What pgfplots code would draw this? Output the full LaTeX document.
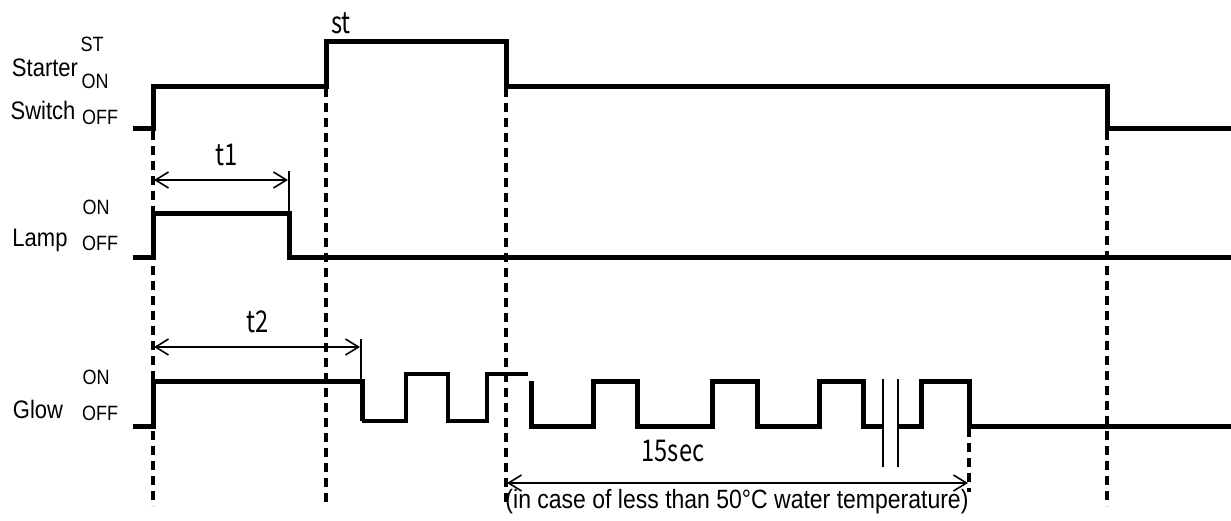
\documentclass[border=0pt]{standalone}
\usepackage{pgfplots}
\pgfplotsset{compat=1.18}
\usepackage{graphicx}
\usepackage{fontspec}
\setmainfont{Liberation Sans}
\newfontfamily\jpfont{Noto Sans CJK JP}
\usetikzlibrary{arrows.meta}
\newcommand\tall[1]{\scalebox{1}[1.15]{#1}}
\newcommand\jtall[1]{\scalebox{0.95}[1.2]{#1}}
\begin{document}
\begin{tikzpicture}
\begin{axis}[
  scale only axis, width=1231pt, height=520pt,
  xmin=0, xmax=1231, ymin=0, ymax=520, y dir=reverse,
  hide axis, clip=false,
  sig/.style={black, line width=5pt, line join=miter, line cap=butt, no markers},
  thin sig/.style={black, line width=3.2pt, line join=miter, line cap=butt, no markers},
  dsh/.style={black, line width=3.3pt, dash pattern=on 9pt off 6pt, no markers},
  dim/.style={black, line width=1.6pt, no markers},
  arr/.style={black, line width=1.6pt, no markers, {Straight Barb[length=13pt,width=16pt]}-{Straight Barb[length=13pt,width=16pt]}},
]
\coordinate (bl) at (axis cs:0,520);
\coordinate (tr) at (axis cs:1231,0);
% dashed time markers
\addplot[dsh] coordinates {(153,131) (153,506)};
\addplot[dsh] coordinates {(326,88) (326,506)};
\addplot[dsh] coordinates {(506,88) (506,506)};
\addplot[dsh] coordinates {(1107,131) (1107,506)};
\addplot[dsh] coordinates {(969,428) (969,492)};
% Starter switch
\addplot[sig] coordinates {(133,128) (153,128) (153,86) (326,86) (326,41) (506,41) (506,86) (1107,86) (1107,128) (1231,128)};
% Lamp
\addplot[sig] coordinates {(133,257) (153,257) (153,213) (289,213) (289,257) (1231,257)};
% Glow
\addplot[sig] coordinates {(133,426) (153,426) (153,381) (362,381) (362,421)};
\addplot[thin sig] coordinates {(362,421) (406,421) (406,374) (448,374) (448,421) (487,421) (487,374) (528,374)};
\addplot[sig] coordinates {(531,381) (531,426) (593,426) (593,381) (637,381) (637,426) (712,426) (712,381) (757,381) (757,426) (819,426) (819,381) (863,381) (863,426) (883,426)};
\addplot[sig] coordinates {(898,426) (921,426) (921,381) (969,381) (969,426) (1231,426)};
% break mark
\addplot[dim, line width=2pt] coordinates {(883,379) (883,467)};
\addplot[dim, line width=2pt] coordinates {(898,379) (898,467)};
% dimension lines
\addplot[dim] coordinates {(289,171) (289,213)};
\addplot[arr] coordinates {(154,180) (288,180)};
\addplot[dim] coordinates {(361,339) (361,381)};
\addplot[arr] coordinates {(154,347) (360,347)};
\addplot[arr] coordinates {(507,483) (968,483)};
% labels
\node[font=\fontsize{22}{26}\selectfont] at (axis cs:45,68) {\tall{Starter}};
\node[font=\fontsize{22}{26}\selectfont] at (axis cs:43,110) {\tall{Switch}};
\node[font=\fontsize{18}{22}\selectfont] at (axis cs:92,44) {\tall{ST}};
\node[font=\fontsize{18}{22}\selectfont] at (axis cs:95,81) {\tall{ON}};
\node[font=\fontsize{18}{22}\selectfont] at (axis cs:100,117) {\tall{OFF}};
\node[font=\fontsize{22}{26}\selectfont] at (axis cs:40,240) {\tall{Lamp}};
\node[font=\fontsize{18}{22}\selectfont] at (axis cs:96,207) {\tall{ON}};
\node[font=\fontsize{18}{22}\selectfont] at (axis cs:100,243) {\tall{OFF}};
\node[font=\fontsize{22}{26}\selectfont] at (axis cs:38,409) {\tall{Glow}};
\node[font=\fontsize{18}{22}\selectfont] at (axis cs:96,377) {\tall{ON}};
\node[font=\fontsize{18}{22}\selectfont] at (axis cs:100,413) {\tall{OFF}};
\node[font=\jpfont\fontsize{25}{29}\selectfont] at (axis cs:341,23) {\jtall{st}};
\node[font=\jpfont\fontsize{25}{29}\selectfont] at (axis cs:227,155) {\jtall{t1}};
\node[font=\jpfont\fontsize{25}{29}\selectfont] at (axis cs:258,322) {\jtall{t2}};
\node[font=\jpfont\fontsize{25}{29}\selectfont] at (axis cs:673,451) {\jtall{15sec}};
\node[font=\fontsize{23}{27}\selectfont] at (axis cs:737,502) {\tall{(in case of less than 50\textdegree C water temperature)}};
\end{axis}
\pgfresetboundingbox
\path[use as bounding box] (bl) rectangle (tr);
\end{tikzpicture}
\end{document}
